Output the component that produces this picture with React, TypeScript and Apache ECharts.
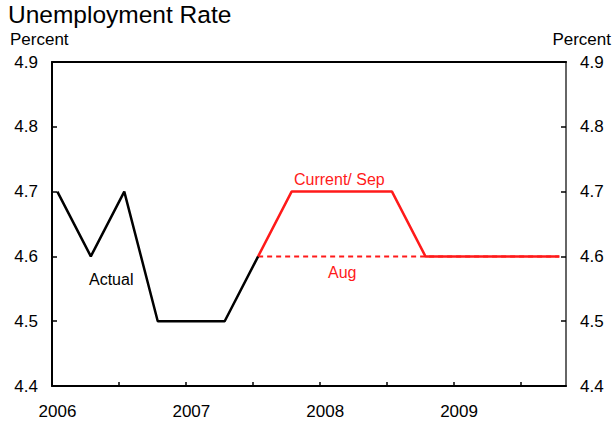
import React, { useEffect, useRef } from "react";
import * as echarts from "echarts";

const quarters = [
  "2006Q1", "2006Q2", "2006Q3", "2006Q4",
  "2007Q1", "2007Q2", "2007Q3", "2007Q4",
  "2008Q1", "2008Q2", "2008Q3", "2008Q4",
  "2009Q1", "2009Q2", "2009Q3", "2009Q4",
];
const actual = [4.7, 4.6, 4.7, 4.5, 4.5, 4.5, 4.6];
const projStartIndex = 6; // projections begin at 2007Q3
const currentSep = [4.6, 4.7, 4.7, 4.7, 4.7, 4.6, 4.6, 4.6, 4.6, 4.6];
const aug = [4.6, 4.6, 4.6, 4.6, 4.6, 4.6, 4.6, 4.6, 4.6, 4.6];
const yMin = 4.4;
const yMax = 4.9;
const yStep = 0.1;
const xMin = 2006;
const xMax = 2009.84;
const xStep = 0.5;
const PLOT_OFFSET = 0.04;

const qx = (q: string) => {
  const year = parseInt(q.slice(0, 4), 10);
  const n = parseInt(q.slice(5), 10);
  return year + (n - 1) / 4 + PLOT_OFFSET;
};

const FONT = "Liberation Sans, Arial, sans-serif";
const RED = "#ff1a1a";

export default function App() {
  const ref = useRef<HTMLDivElement>(null);
  useEffect(() => {
    if (!ref.current) return;
    const chart = echarts.init(ref.current, null, { renderer: "svg" });
    const actualData = actual.map((v, i) => [qx(quarters[i]), v]);
    const sepData = currentSep.map((v, i) => [qx(quarters[projStartIndex + i]), v]);
    const augData = aug.map((v, i) => [qx(quarters[projStartIndex + i]), v]);

    const yAxisBase = (pos: "left" | "right", lineColor: string) => ({
      type: "value" as const,
      position: pos,
      min: yMin,
      max: yMax,
      interval: yStep,
      splitLine: { show: false },
      axisLine: { show: true, lineStyle: { color: lineColor, width: 2 } },
      axisTick: { show: true, inside: true, length: 5, lineStyle: { color: "#000", width: 1.5 } },
      axisLabel: {
        show: true,
        margin: 14,
        fontSize: 17,
        color: "#000",
        fontFamily: FONT,
        formatter: (v: number) => v.toFixed(1),
      },
    });

    chart.setOption({
      animation: false,
      backgroundColor: "#fff",
      grid: { left: 52, right: 47, top: 62, bottom: 38, containLabel: false },
      xAxis: [
        {
          type: "value",
          position: "bottom",
          min: xMin,
          max: xMax,
          interval: xStep,
          splitLine: { show: false },
          axisLine: { show: true, onZero: false, lineStyle: { color: "#000", width: 2 } },
          axisTick: { show: true, inside: true, length: 4, lineStyle: { color: "#000", width: 1.5 } },
          axisLabel: {
            show: true,
            margin: 17,
            fontSize: 17,
            color: "#000",
            fontFamily: FONT,
            padding: [0, 0, 0, 11],
            showMaxLabel: false,
            formatter: (v: number) => (Math.abs(v - Math.round(v)) < 1e-6 ? String(Math.round(v)) : ""),
          },
        },
        {
          type: "value",
          position: "top",
          min: xMin,
          max: xMax,
          splitLine: { show: false },
          axisLine: { show: true, onZero: false, lineStyle: { color: "#000", width: 2 } },
          axisTick: { show: false },
          axisLabel: { show: false },
        },
      ],
      yAxis: [yAxisBase("left", "#000"), yAxisBase("right", "#666")],
      series: [
        {
          name: "Aug",
          type: "line",
          data: augData,
          showSymbol: false,
          lineStyle: { color: RED, width: 2, type: [5, 4] },
          z: 2,
        },
        {
          name: "Actual",
          type: "line",
          data: actualData,
          showSymbol: false,
          lineStyle: { color: "#000", width: 2.5 },
          z: 3,
        },
        {
          name: "Current/ Sep",
          type: "line",
          data: sepData,
          showSymbol: false,
          lineStyle: { color: RED, width: 2.5 },
          z: 4,
        },
      ],
      graphic: [
        {
          type: "text",
          left: 8,
          top: 2,
          style: { text: "Unemployment Rate", fontSize: 24.5, fontFamily: FONT, fill: "#000" },
        },
        {
          type: "text",
          left: 10,
          top: 31,
          style: { text: "Percent", fontSize: 17, fontFamily: FONT, fill: "#000" },
        },
        {
          type: "text",
          right: 2,
          top: 31,
          style: { text: "Percent", fontSize: 17, fontFamily: FONT, fill: "#000" },
        },
        {
          type: "text",
          left: 89,
          top: 271,
          style: { text: "Actual", fontSize: 16, fontFamily: FONT, fill: "#000" },
        },
        {
          type: "text",
          left: 294,
          top: 171,
          style: { text: "Current/ Sep", fontSize: 16, fontFamily: FONT, fill: RED },
        },
        {
          type: "text",
          left: 328,
          top: 264,
          style: { text: "Aug", fontSize: 16, fontFamily: FONT, fill: RED },
        },
      ],
    });
    return () => chart.dispose();
  }, []);
  return (
    <div
      ref={ref}
      style={{ position: "fixed", left: 0, top: 0, width: 613, height: 424 }}
    />
  );
}
